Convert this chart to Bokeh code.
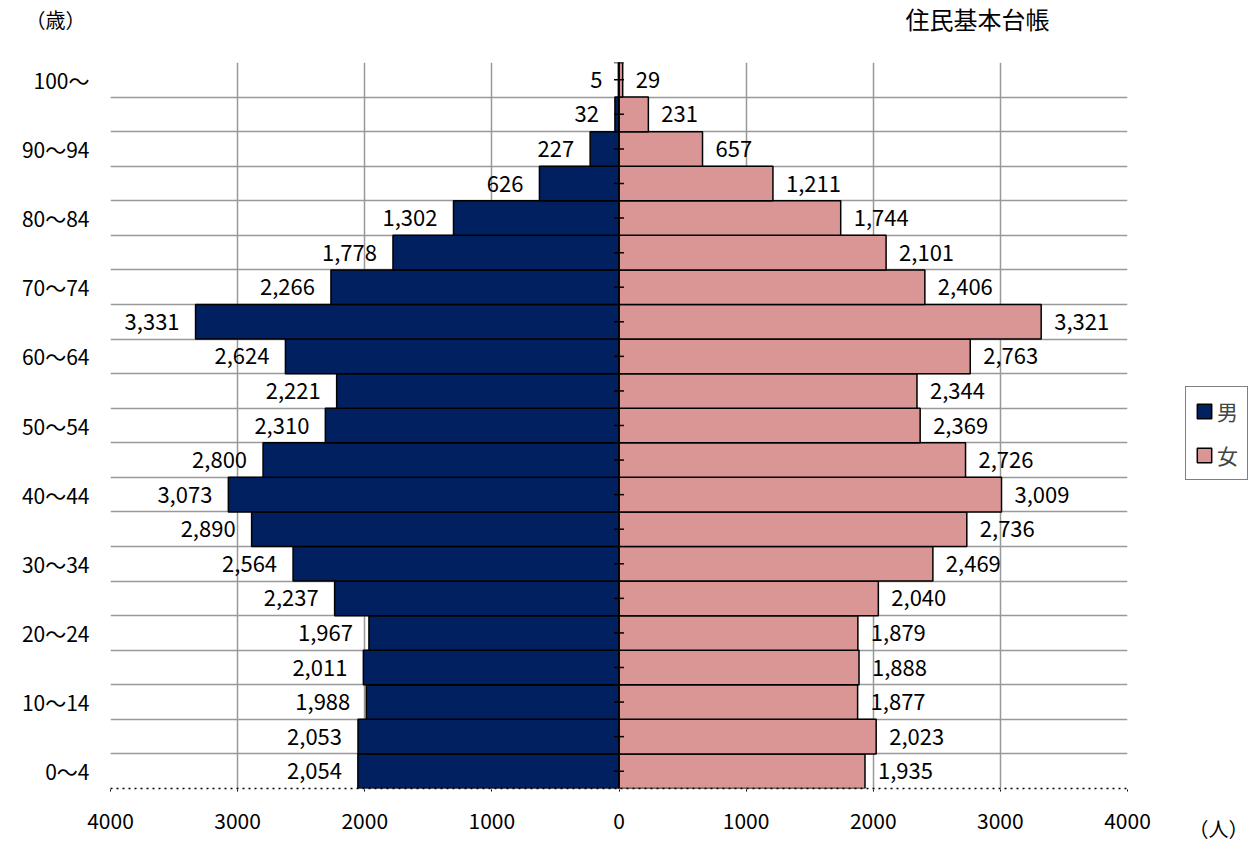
from bokeh.plotting import figure
from bokeh.models import ColumnDataSource, FixedTicker, Span, Legend, Range1d
from bokeh.layouts import row, column
from bokeh.core.properties import value
from bokeh.embed import file_html
from bokeh.resources import INLINE

# ---- data (bottom -> top) ----
ages = ["0～4", "5～9", "10～14", "15～19", "20～24", "25～29", "30～34", "35～39",
        "40～44", "45～49", "50～54", "55～59", "60～64", "65～69", "70～74", "75～79",
        "80～84", "85～89", "90～94", "95～99", "100～"]
male = [2054, 2053, 1988, 2011, 1967, 2237, 2564, 2890, 3073, 2800, 2310, 2221,
        2624, 3331, 2266, 1778, 1302, 626, 227, 32, 5]
female = [1935, 2023, 1877, 1888, 1879, 2040, 2469, 2736, 3009, 2726, 2369, 2344,
          2763, 3321, 2406, 2101, 1744, 1211, 657, 231, 29]
x_ticks = [-4000, -3000, -2000, -1000, 0, 1000, 2000, 3000, 4000]
shown_age_idx = list(range(0, 21, 2))
series_names = ["男", "女"]

FONT = "Noto Sans CJK JP"
MALE_C = "#002060"
FEMALE_C = "#DA9694"
GRID_C = "#999999"

MAIN_W, HEAD_H, MAIN_H = 1160, 56, 787
RIGHT_W = 96
TOTAL_H = HEAD_H + MAIN_H

n = len(ages)
idx = list(range(n))
src = ColumnDataSource(dict(
    y=idx,
    mneg=[-v for v in male],
    f=female,
    zero=[0] * n,
    mlab=[f"{v:,}" for v in male],
    flab=[f"{v:,}" for v in female],
))


def blank(w, h, xr, yr):
    f = figure(width=w, height=h, x_range=xr, y_range=yr, min_border=0,
               x_axis_location=None, y_axis_location=None,
               output_backend="svg", toolbar_location=None)
    f.outline_line_color = None
    f.xgrid.visible = False
    f.ygrid.visible = False
    return f


# ---- header (page-pixel coordinates) ----
head = blank(MAIN_W, HEAD_H, Range1d(0, MAIN_W), Range1d(HEAD_H, 0))
head.text(x=[55], y=[19], text=["（歳）"], text_align="center", text_baseline="middle",
          text_font=value(FONT), text_font_size="20px", text_color="black")
head.text(x=[977], y=[18], text=["住民基本台帳"], text_align="center",
          text_baseline="middle", text_font=value(FONT), text_font_size="24px",
          text_color="black")

# ---- main chart ----
p = figure(width=MAIN_W, height=MAIN_H, frame_width=1017, frame_height=726,
           min_border_left=110, min_border_right=MAIN_W - 110 - 1017, min_border_top=6,
           min_border_bottom=MAIN_H - 6 - 726, output_backend="svg", toolbar_location=None,
           x_range=Range1d(-4000, 4000), y_range=Range1d(-0.5, n - 0.5))
p.outline_line_color = None

p.xgrid.ticker = FixedTicker(ticks=x_ticks)
p.xgrid.grid_line_color = GRID_C
p.xgrid.grid_line_width = 1.5
p.ygrid.ticker = FixedTicker(ticks=[i + 0.5 for i in idx])
p.ygrid.grid_line_color = GRID_C
p.ygrid.grid_line_width = 1.5

p.hbar(y="y", left="mneg", right="zero", height=1, source=src,
       fill_color=MALE_C, line_color="black", line_width=1.5)
p.hbar(y="y", left="zero", right="f", height=1, source=src,
       fill_color=FEMALE_C, line_color="black", line_width=1.5)

p.add_layout(Span(location=0, dimension="height", line_color="black", line_width=1.5))
p.scatter(x=[0] * (n + 1), y=idx + [n - 0.5], marker="dash", size=10,
          line_color="black", line_width=1.5)

p.text(x="mneg", y="y", text="mlab", source=src, text_align="right",
       text_baseline="middle", x_offset=-16, text_font=value(FONT),
       text_font_size="22px", text_color="black")
p.text(x="f", y="y", text="flab", source=src, text_align="left",
       text_baseline="middle", x_offset=13, text_font=value(FONT),
       text_font_size="22px", text_color="black")

xa = p.xaxis[0]
xa.ticker = FixedTicker(ticks=x_ticks)
xa.major_label_overrides = {t: str(abs(t)) for t in x_ticks}
xa.axis_line_color = "black"
xa.axis_line_dash = "dotted"
xa.axis_line_width = 1.5
xa.major_tick_line_dash = "dotted"
xa.major_tick_line_color = "black"
xa.major_tick_in = 3
xa.major_tick_out = 3
xa.minor_tick_line_color = None
xa.major_label_standoff = 21
xa.major_label_text_font = FONT
xa.major_label_text_font_size = "21px"
xa.major_label_text_color = "black"

ya = p.yaxis[0]
ya.ticker = FixedTicker(ticks=shown_age_idx)
ya.major_label_overrides = {i: ages[i] for i in shown_age_idx}
ya.axis_line_color = None
ya.major_tick_line_color = None
ya.minor_tick_line_color = None
ya.major_tick_out = 0
ya.major_tick_in = 0
ya.major_label_standoff = 21
ya.major_label_text_font = FONT
ya.major_label_text_font_size = "21px"
ya.major_label_text_color = "black"

# ---- right column: legend and unit (page-pixel coordinates) ----
side = blank(RIGHT_W, TOTAL_H, Range1d(MAIN_W, MAIN_W + RIGHT_W), Range1d(TOTAL_H, 0))
# hidden copies of the series, used only as legend entries
lm = side.hbar(y="y", left="mneg", right="zero", height=1, source=src, fill_color=MALE_C,
               line_color="black", line_width=1.5, visible=False)
lf = side.hbar(y="y", left="zero", right="f", height=1, source=src, fill_color=FEMALE_C,
               line_color="black", line_width=1.5, visible=False)
side.text(x=[1218], y=[828], text=["（人）"], text_align="center", text_baseline="middle",
          text_font=value(FONT), text_font_size="20px", text_color="black")
legend = Legend(items=[(series_names[0], [lm]), (series_names[1], [lf])],
                location=(25, TOTAL_H - 480),
                border_line_color="black", border_line_width=1.5,
                background_fill_color="white", background_fill_alpha=1,
                glyph_width=18, glyph_height=18, label_standoff=4,
                label_text_font=FONT, label_text_font_size="21px",
                label_height=24, spacing=14, padding=9, margin=0)
side.add_layout(legend)

layout = row(column(column(head), p), side)
open("out.html", "w").write(file_html(layout, INLINE))
